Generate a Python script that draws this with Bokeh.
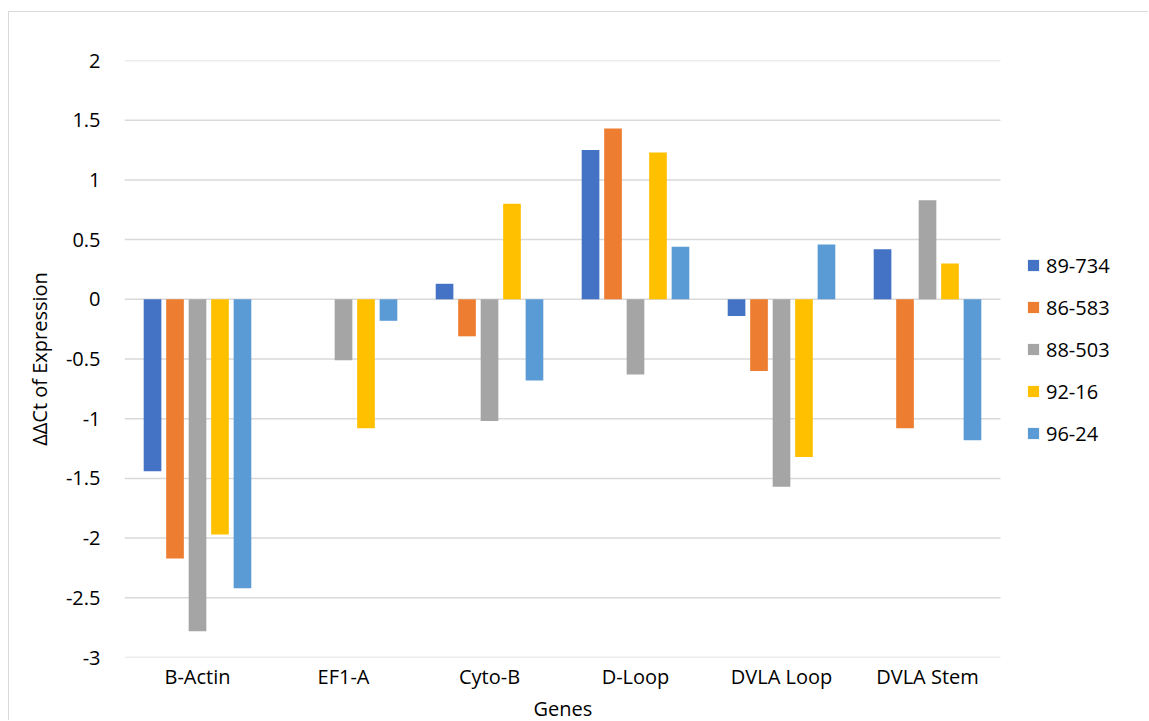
from bokeh.plotting import figure
from bokeh.models import Range1d, FixedTicker, Legend, LegendItem, ColumnDataSource, Title
from bokeh.transform import dodge
from bokeh.embed import file_html
from bokeh.resources import INLINE

# Genes on the category axis
genes = ["B-Actin", "EF1-A", "Cyto-B", "D-Loop", "DVLA Loop", "DVLA Stem"]

# ΔΔCt values per sample line, one value per gene
s89_734 = [-1.44, 0.0, 0.13, 1.25, -0.14, 0.42]
s86_583 = [-2.17, 0.0, -0.31, 1.43, -0.60, -1.08]
s88_503 = [-2.78, -0.51, -1.02, -0.63, -1.57, 0.83]
s92_16 = [-1.97, -1.08, 0.80, 1.23, -1.32, 0.30]
s96_24 = [-2.42, -0.18, -0.68, 0.44, 0.46, -1.18]

series_names = ["89-734", "86-583", "88-503", "92-16", "96-24"]
series_values = [s89_734, s86_583, s88_503, s92_16, s96_24]
series_colors = ["#4472C4", "#ED7D31", "#A5A5A5", "#FFC000", "#5B9BD5"]

# y-axis ticks and their labels
y_ticks = [-3, -2.5, -2, -1.5, -1, -0.5, 0, 0.5, 1, 1.5, 2]
y_tick_labels = ["-3", "-2.5", "-2", "-1.5", "-1", "-0.5", "0", "0.5", "1", "1.5", "2"]

FONT = "Open Sans"
N = len(genes)
centers = [i + 0.5 for i in range(N)]
SLOT_PX = 146  # width of one gene slot

# The frame runs on to the right edge so the legend can sit beside the bars.
p = figure(
    width=1140, height=709,
    x_range=Range1d(0, 1025 / SLOT_PX),
    y_range=Range1d(-3, 2),
    output_backend="svg", toolbar_location=None,
    min_border_left=115, min_border_right=0,
    min_border_top=48, min_border_bottom=64,
)
p.styles = {
    "margin-left": "8px", "margin-top": "11px",
    "border-left": "1px solid #D9D9D9", "border-top": "1px solid #D9D9D9",
}
p.outline_line_color = None
p.background_fill_color = "white"
p.border_fill_color = "white"
p.xgrid.grid_line_color = None
p.ygrid.grid_line_color = None

# horizontal gridlines spanning only the gene slots
p.segment(x0=[0] * len(y_ticks), x1=[N] * len(y_ticks), y0=y_ticks, y1=y_ticks,
          line_color="#D9D9D9", line_width=1.5)

data = {"genes": genes, "pos": centers}
for name, vals in zip(series_names, series_values):
    data[name] = vals
src = ColumnDataSource(data)

pitch = 0.154
bar_w = 0.121
items = []
for i, (name, col) in enumerate(zip(series_names, series_colors)):
    off = (i - 2) * pitch
    r = p.vbar(x=dodge("pos", off), top=name, bottom=0,
               width=bar_w, source=src, fill_color=col, line_color=None)
    items.append(LegendItem(label=name, renderers=[r]))

# y axis
p.yaxis.ticker = FixedTicker(ticks=y_ticks)
p.yaxis.major_label_overrides = {t: l for t, l in zip(y_ticks, y_tick_labels)}
p.yaxis.axis_line_color = None
p.yaxis.major_tick_line_color = None
p.yaxis.minor_tick_line_color = None
p.yaxis.major_tick_out = 0
p.yaxis.major_label_standoff = 24
p.yaxis.major_label_text_font = FONT
p.yaxis.major_label_text_font_size = "20px"
p.yaxis.major_label_text_color = "#000000"
p.yaxis.axis_label = "ΔΔCt of Expression"
p.yaxis.axis_label_text_font = FONT
p.yaxis.axis_label_text_font_size = "20px"
p.yaxis.axis_label_text_font_style = "normal"
p.yaxis.axis_label_text_color = "#000000"
p.yaxis.axis_label_standoff = 10

# x axis: gene names under each slot
p.xaxis.ticker = FixedTicker(ticks=centers)
p.xaxis.major_label_overrides = {c: g for c, g in zip(centers, genes)}
p.xaxis.axis_line_color = None
p.xaxis.major_tick_line_color = None
p.xaxis.minor_tick_line_color = None
p.xaxis.major_tick_out = 0
p.xaxis.major_label_standoff = 5
p.xaxis.major_label_text_font = FONT
p.xaxis.major_label_text_font_size = "20px"
p.xaxis.major_label_text_color = "#000000"

# x-axis title, centred under the gene slots rather than the whole frame
genes_title = Title(
    text="Genes", align="left", offset=N * SLOT_PX / 2 - 29,
    text_font=FONT, text_font_size="20px", text_font_style="normal",
    text_color="#000000", standoff=0,
)
p.add_layout(genes_title, "below")

legend = Legend(
    items=items, location=(902, 210), orientation="vertical",
    label_text_font=FONT, label_text_font_size="20px", label_text_color="#000000",
    glyph_width=14, glyph_height=14, label_height=28, spacing=14,
    padding=0, margin=0, border_line_color=None, background_fill_alpha=0,
    label_standoff=6,
)
p.add_layout(legend, "center")

open("out.html", "w").write(file_html(p, INLINE))
